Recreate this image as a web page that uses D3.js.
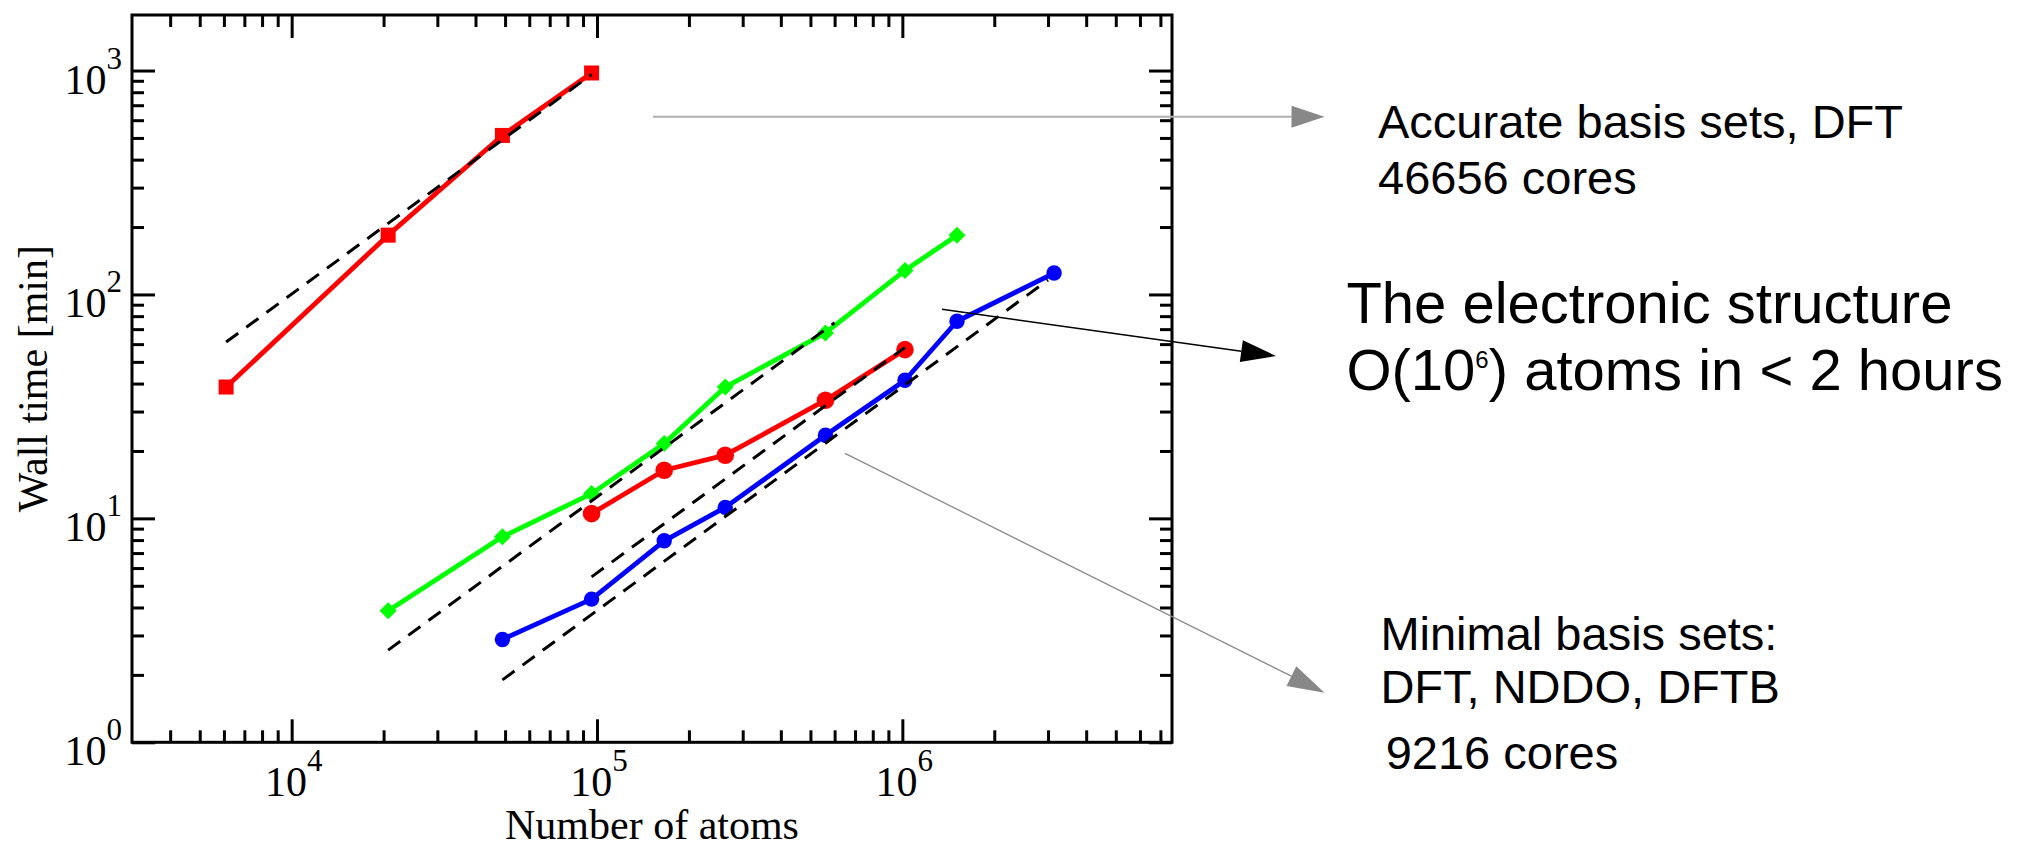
<!DOCTYPE html>
<html>
<head>
<meta charset="utf-8">
<script src="https://cdn.jsdelivr.net/npm/d3@7"></script>
<style>
  html, body { margin: 0; padding: 0; background: #ffffff; overflow: hidden; }
  svg { display: block; }
</style>
</head>
<body>
<svg id="chart" width="2020" height="846"></svg>
<script>
// ---------------- data ----------------
const xTickExponents = [4, 5, 6];
const yTickExponents = [0, 1, 2, 3];
const xAxisTitle = "Number of atoms";
const yAxisTitle = "Wall time [min]";

// Accurate basis sets, DFT (red squares)
const accurateX = [6100, 20700, 49000, 96000];
const accurateY = [38.6, 184, 513, 975];

// green diamonds
const greenX = [20700, 49000, 96000, 166000, 263000, 560000, 1020000, 1510000];
const greenY = [3.87, 8.27, 12.9, 21.6, 38.6, 67.3, 128, 184];

// red circles
const redCircleX = [96000, 166000, 263000, 560000, 1020000];
const redCircleY = [10.5, 16.4, 19.15, 33.7, 56.7];

// blue circles
const blueX = [49000, 96000, 166000, 263000, 560000, 1020000, 1510000, 3140000];
const blueY = [2.88, 4.36, 7.94, 11.2, 23.5, 41.4, 75.9, 124.6];

// linear-scaling guide lines (dashed)
const guide1X = [6100, 96000];     const guide1Y = [61.3, 960];
const guide2X = [20700, 600000];   const guide2Y = [2.58, 74.8];
const guide3X = [96000, 1020000];  const guide3Y = [5.48, 58];
const guide4X = [49000, 3000000];  const guide4Y = [1.90, 116];

// annotation texts
const noteAccurate = ["Accurate basis sets, DFT", "46656 cores"];
const noteMain = ["The electronic structure", "O(10", "6", ") atoms in < 2 hours"];
const noteMinimal = ["Minimal basis sets:", "DFT, NDDO, DFTB", "9216 cores"];

// ---------------- layout ----------------
const W = 2020, H = 846;
const plot = { left: 132, right: 1172, top: 15, bottom: 742.3 };
const serif = "'Liberation Serif', 'Times New Roman', Times, serif";
const sans = "'Liberation Sans', Arial, Helvetica, sans-serif";

const svg = d3.select("#chart");
svg.append("rect").attr("width", W).attr("height", H).attr("fill", "#fff");

const x = d3.scaleLog().domain([3000, 7.64e6]).range([plot.left, plot.right]);
const y = d3.scaleLog().domain([1, 1770]).range([plot.bottom, plot.top]);

const majorX = xTickExponents.map(e => Math.pow(10, e));
const majorY = yTickExponents.map(e => Math.pow(10, e));
const isPow10 = v => Math.abs(Math.log10(v) - Math.round(Math.log10(v))) < 1e-9;
const minorX = x.ticks().filter(v => !isPow10(v) && v > 3000 * 1.01);
const minorY = y.ticks().filter(v => !isPow10(v));

function styleAxis(g) {
  g.select(".domain").remove();
  g.selectAll(".tick line").attr("stroke", "#000").attr("stroke-width", 3);
  g.selectAll(".tick text").remove();
}

const axesG = svg.append("g");
// bottom
axesG.append("g").attr("transform", `translate(0,${plot.bottom})`)
  .call(d3.axisBottom(x).tickValues(majorX).tickSize(-23).tickFormat("")).call(styleAxis);
axesG.append("g").attr("transform", `translate(0,${plot.bottom})`)
  .call(d3.axisBottom(x).tickValues(minorX).tickSize(-12).tickFormat("")).call(styleAxis);
// top
axesG.append("g").attr("transform", `translate(0,${plot.top})`)
  .call(d3.axisTop(x).tickValues(majorX).tickSize(-23).tickFormat("")).call(styleAxis);
axesG.append("g").attr("transform", `translate(0,${plot.top})`)
  .call(d3.axisTop(x).tickValues(minorX).tickSize(-12).tickFormat("")).call(styleAxis);
// left
axesG.append("g").attr("transform", `translate(${plot.left},0)`)
  .call(d3.axisLeft(y).tickValues(majorY).tickSize(-23).tickFormat("")).call(styleAxis);
axesG.append("g").attr("transform", `translate(${plot.left},0)`)
  .call(d3.axisLeft(y).tickValues(minorY).tickSize(-12).tickFormat("")).call(styleAxis);
// right
axesG.append("g").attr("transform", `translate(${plot.right},0)`)
  .call(d3.axisRight(y).tickValues(majorY).tickSize(-23).tickFormat("")).call(styleAxis);
axesG.append("g").attr("transform", `translate(${plot.right},0)`)
  .call(d3.axisRight(y).tickValues(minorY).tickSize(-12).tickFormat("")).call(styleAxis);

// frame
svg.append("rect")
  .attr("x", plot.left).attr("y", plot.top)
  .attr("width", plot.right - plot.left).attr("height", plot.bottom - plot.top)
  .attr("fill", "none").attr("stroke", "#000").attr("stroke-width", 3);

// tick labels
xTickExponents.forEach(e => {
  const t = svg.append("text")
    .attr("x", x(Math.pow(10, e)) + 2).attr("y", 796)
    .attr("text-anchor", "middle").attr("font-family", serif).attr("fill", "#000");
  t.append("tspan").attr("font-size", 42).text("10");
  t.append("tspan").attr("font-size", 31).attr("dy", -25).text(String(e));
});
yTickExponents.forEach(e => {
  const t = svg.append("text")
    .attr("x", plot.left - 10).attr("y", y(Math.pow(10, e)) + 23)
    .attr("text-anchor", "end").attr("font-family", serif).attr("fill", "#000");
  t.append("tspan").attr("font-size", 42).text("10");
  t.append("tspan").attr("font-size", 31).attr("dy", -25).text(String(e));
});

// axis titles
svg.append("text")
  .attr("x", (plot.left + plot.right) / 2).attr("y", 838.5)
  .attr("text-anchor", "middle").attr("font-family", serif).attr("font-size", 42)
  .text(xAxisTitle);
svg.append("text")
  .attr("transform", `translate(47,${(plot.top + plot.bottom) / 2}) rotate(-90)`)
  .attr("text-anchor", "middle").attr("font-family", serif).attr("font-size", 42)
  .text(yAxisTitle);

// ---------------- series ----------------
const line = d3.line().x(d => x(d[0])).y(d => y(d[1]));
const zipXY = (xs, ys) => xs.map((v, i) => [v, ys[i]]);

const series = [
  { xs: accurateX, ys: accurateY, color: "#ff0000", marker: "square", size: 15 },
  { xs: greenX, ys: greenY, color: "#00ff00", marker: "diamond", size: 8.5 },
  { xs: redCircleX, ys: redCircleY, color: "#ff0000", marker: "circle", size: 8.8 },
  { xs: blueX, ys: blueY, color: "#0000ff", marker: "circle", size: 7.7 }
];

const dataG = svg.append("g");
series.forEach(s => {
  dataG.append("path")
    .datum(zipXY(s.xs, s.ys))
    .attr("d", line)
    .attr("fill", "none").attr("stroke", s.color).attr("stroke-width", 4.8)
    .attr("stroke-linejoin", "round");
});

const guides = [
  [guide1X, guide1Y], [guide2X, guide2Y], [guide3X, guide3Y], [guide4X, guide4Y]
];
const guideG = svg.append("g");

series.forEach(s => {
  const pts = zipXY(s.xs, s.ys);
  if (s.marker === "square") {
    dataG.selectAll(null).data(pts).enter().append("rect")
      .attr("x", d => x(d[0]) - s.size / 2).attr("y", d => y(d[1]) - s.size / 2)
      .attr("width", s.size).attr("height", s.size).attr("fill", s.color);
  } else if (s.marker === "circle") {
    dataG.selectAll(null).data(pts).enter().append("circle")
      .attr("cx", d => x(d[0])).attr("cy", d => y(d[1])).attr("r", s.size)
      .attr("fill", s.color);
  } else {
    const r = s.size;
    dataG.selectAll(null).data(pts).enter().append("path")
      .attr("d", d => {
        const cx = x(d[0]), cy = y(d[1]);
        return `M${cx},${cy - r}L${cx + r},${cy}L${cx},${cy + r}L${cx - r},${cy}Z`;
      })
      .attr("fill", s.color);
  }
});

guides.forEach(([gx, gy]) => {
  guideG.append("path")
    .datum(zipXY(gx, gy))
    .attr("d", line)
    .attr("fill", "none").attr("stroke", "#000").attr("stroke-width", 3)
    .attr("stroke-dasharray", "15,10");
});

// ---------------- annotations ----------------
function arrow(x1, y1, x2, y2, len, half, lineColor, headColor, lw) {
  const dx = x2 - x1, dy = y2 - y1, L = Math.hypot(dx, dy);
  const ux = dx / L, uy = dy / L;
  const bx = x2 - ux * len, by = y2 - uy * len;
  svg.append("line").attr("x1", x1).attr("y1", y1).attr("x2", bx).attr("y2", by)
    .attr("stroke", lineColor).attr("stroke-width", lw);
  svg.append("path")
    .attr("d", `M${x2},${y2}L${bx - uy * half},${by + ux * half}L${bx + uy * half},${by - ux * half}Z`)
    .attr("fill", headColor);
}
arrow(653, 116.7, 1324.5, 116.7, 33, 11, "#b0b0b0", "#888888", 2);
arrow(942, 309.3, 1276, 356, 35, 11, "#000000", "#000000", 1.5);
arrow(845, 453.3, 1324.5, 692.7, 37, 11, "#8a8a8a", "#888888", 1.3);

function note(txt, px, py, fs) {
  svg.append("text").attr("x", px).attr("y", py)
    .attr("font-family", sans).attr("font-size", fs).attr("fill", "#000").text(txt);
}
note(noteAccurate[0], 1378, 138.3, 47);
note(noteAccurate[1], 1378, 194, 47);
note(noteMain[0], 1346.4, 323.3, 58);
{
  const t = svg.append("text").attr("x", 1346.4).attr("y", 390)
    .attr("font-family", sans).attr("font-size", 58).attr("fill", "#000");
  t.append("tspan").text(noteMain[1]);
  t.append("tspan").attr("font-size", 24).attr("dy", -22).text(noteMain[2]);
  t.append("tspan").attr("dy", 22).text(noteMain[3]);
}
note(noteMinimal[0], 1380.4, 650, 47);
note(noteMinimal[1], 1380.4, 703.3, 47);
note(noteMinimal[2], 1385.7, 769.3, 47);
</script>
</body>
</html>
